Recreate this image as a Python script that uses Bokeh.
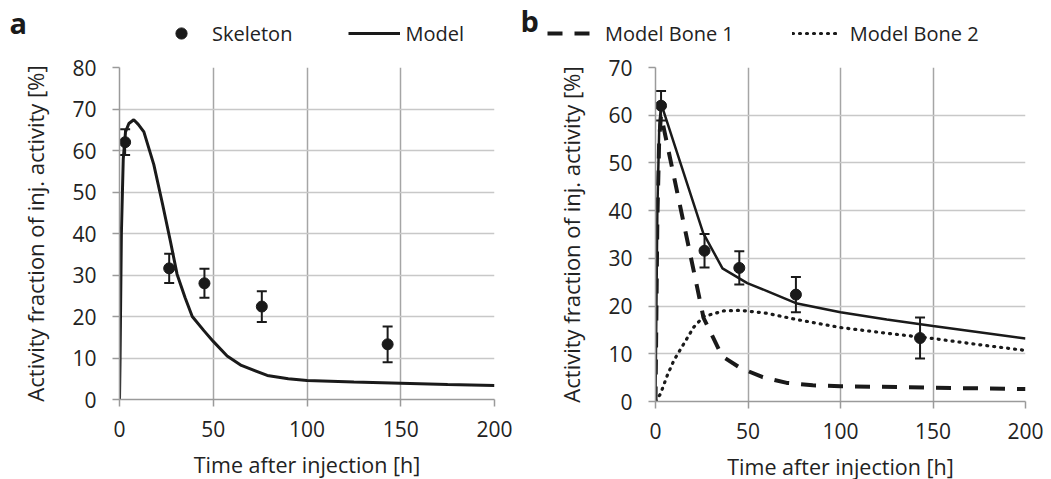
from bokeh.plotting import figure
from bokeh.layouts import row, column
from bokeh.models import (Legend, LegendItem, Label, Whisker, ColumnDataSource,
                          FixedTicker, TeeHead, Range1d)
from bokeh.embed import file_html
from bokeh.resources import INLINE

FONT = "Open Sans"
TXT = "#222222"
INK = "#1a1a1a"

# ---- data ----
obs_t = [3, 26.5, 45.3, 75.9, 143]
obs_y = [62.0, 31.6, 28.0, 22.4, 13.3]
obs_err = [3.1, 3.5, 3.5, 3.7, 4.3]

model_a_t = [0, 0.3, 1, 2, 3.2, 5, 7.6, 10, 13, 18.3, 23, 27.2, 30.7, 35, 38.8,
             45, 50, 57.4, 65, 78.8, 90, 100, 125, 150, 175, 200]
model_a_y = [0, 10, 40, 58, 64.5, 66.5, 67.4, 66.3, 64.5, 56.6, 47, 38, 30.2, 24.5, 20,
             16.6, 14, 10.5, 8.2, 5.8, 5.0, 4.6, 4.2, 3.9, 3.6, 3.4]

model_b_t = [0, 0.5, 1, 2, 3, 25.8, 36.2, 49.6, 60, 75.9, 100, 125, 150, 175, 200]
model_b_y = [0, 20, 40, 57, 62.5, 35.3, 27.9, 24.8, 23.2, 20.6, 18.7, 17.2, 15.8, 14.5, 13.2]

bone1_t = [0, 1, 2, 3, 26, 36, 46, 58, 71, 85, 100, 150, 200]
bone1_y = [0, 38, 55, 60, 17.5, 9.5, 7.0, 5.1, 3.9, 3.4, 3.2, 2.9, 2.6]

bone2_t = [0, 2.7, 6.3, 9.9, 15.3, 20.7, 26, 37, 46, 60, 76, 100, 125, 150, 175, 200]
bone2_y = [0, 1.6, 5.4, 8.6, 12.1, 15.6, 17.8, 19.0, 19.1, 18.5, 17.2, 15.5, 14.3, 13.2, 11.9, 10.7]

x_ticks = [0, 50, 100, 150, 200]
y_ticks_a = [0, 10, 20, 30, 40, 50, 60, 70, 80]
y_ticks_b = [0, 10, 20, 30, 40, 50, 60, 70]

x_label = "Time after injection [h]"
y_label = "Activity fraction of inj. activity [%]"

DOT = dict(size=11, color=INK)
SOLID_A = dict(line_color=INK, line_width=3)
SOLID_B = dict(line_color=INK, line_width=2.5)
DASHED = dict(line_color=INK, line_width=4, line_dash="15 12")
DOTTED = dict(line_color=INK, line_width=3.2, line_dash="1 6", line_cap="round")

# off-canvas stand-ins so that the header legend can draw its samples
OFF = [-1000.0]


def make_fig(ymax, yticks, bl, br, bt, bb, fw, fh):
    p = figure(frame_width=fw, frame_height=fh, min_border_left=bl, min_border_right=br,
               min_border_top=bt, min_border_bottom=bb,
               x_range=Range1d(0, 200), y_range=Range1d(0, ymax),
               output_backend="svg", toolbar_location=None)
    p.outline_line_color = None
    p.xaxis.ticker = FixedTicker(ticks=x_ticks)
    p.yaxis.ticker = FixedTicker(ticks=yticks)
    for ax in (p.xaxis, p.yaxis):
        ax.axis_line_color = "#9a9a9a"
        ax.axis_line_width = 1.5
        ax.major_tick_line_color = "#9a9a9a"
        ax.major_tick_line_width = 1.5
        ax.major_tick_out = 7
        ax.major_tick_in = 0
        ax.minor_tick_line_color = None
        ax.major_label_text_font = FONT
        ax.major_label_text_font_size = "21px"
        ax.major_label_text_color = TXT
        ax.axis_label_text_font = FONT
        ax.axis_label_text_font_style = "normal"
        ax.axis_label_text_color = TXT
    p.xaxis.axis_label_text_font_size = "21.5px"
    p.yaxis.axis_label_text_font_size = "22px"
    p.xaxis.major_label_standoff = 14
    p.yaxis.major_label_standoff = 16
    p.xaxis.axis_label = x_label
    p.yaxis.axis_label = y_label
    p.xaxis.axis_label_standoff = 10
    p.yaxis.axis_label_standoff = 19
    p.xgrid.grid_line_color = "#a5a5a5"
    p.xgrid.grid_line_width = 1.5
    p.ygrid.grid_line_color = "#c8c8c8"
    p.ygrid.grid_line_width = 1.5
    return p


def add_obs(p):
    src = ColumnDataSource(dict(t=obs_t, y=obs_y,
                                lo=[a - e for a, e in zip(obs_y, obs_err)],
                                hi=[a + e for a, e in zip(obs_y, obs_err)]))
    w = Whisker(base="t", lower="lo", upper="hi", source=src, line_color=INK,
                line_width=2,
                upper_head=TeeHead(size=10, line_width=2, line_color=INK),
                lower_head=TeeHead(size=10, line_width=2, line_color=INK))
    p.add_layout(w)
    p.scatter("t", "y", source=src, **DOT)


def legend(items, loc, gw, stand, spacing):
    return Legend(items=items, orientation="horizontal", location=loc,
                  glyph_width=gw, glyph_height=28, label_height=28, label_standoff=stand,
                  spacing=spacing, padding=0, margin=0, border_line_color=None,
                  background_fill_alpha=0, label_text_font=FONT,
                  label_text_font_size="20px", label_text_color=TXT)


# ---- header (panel letters + legends) ----
W, H = 1051, 52
hd = figure(width=W, height=H, min_border=0, x_range=Range1d(0, W), y_range=Range1d(0, H),
            x_axis_location=None, y_axis_location=None,
            output_backend="svg", toolbar_location=None)
hd.grid.visible = False
hd.outline_line_color = None
for letter, lx, ly in (("a", 9, 30), ("b", 520, 32)):
    hd.add_layout(Label(x=lx, y=ly, text=letter, text_font=FONT, text_font_style="bold",
                        text_font_size="29px", text_baseline="alphabetic",
                        text_color=INK))
h1 = hd.scatter(OFF, OFF, **DOT)
h2 = hd.line(OFF, OFF, **SOLID_A)
h3 = hd.line(OFF, OFF, **DASHED)
h4 = hd.line(OFF, OFF, **DOTTED)
hd.add_layout(legend([LegendItem(label="Skeleton", renderers=[h1]),
                      LegendItem(label="Model", renderers=[h2])], (155, 5), 52, 5, 56),
              "center")
hd.add_layout(legend([LegendItem(label="Model Bone 1", renderers=[h3]),
                      LegendItem(label="Model Bone 2", renderers=[h4])], (547, 5), 45, 13, 58),
              "center")

# ---- panel a ----
pa = make_fig(80, y_ticks_a, 119, 24, 14, 81, 375, 332)
pa.line(model_a_t, model_a_y, **SOLID_A)
add_obs(pa)

# ---- panel b ----
pb = make_fig(70, y_ticks_b, 137, 26, 15, 78, 370, 334)
pb.line(bone1_t, bone1_y, **DASHED)
pb.line(bone2_t, bone2_y, **DOTTED)
pb.line(model_b_t, model_b_y, **SOLID_B)
add_obs(pb)

layout = column(hd, row(pa, pb))
open("out.html", "w").write(file_html(layout, INLINE))
